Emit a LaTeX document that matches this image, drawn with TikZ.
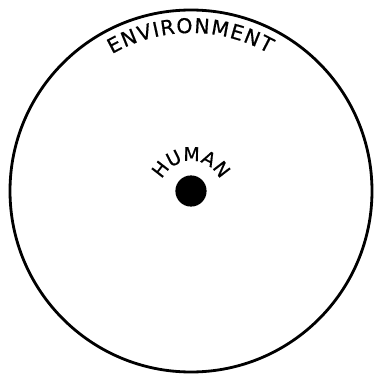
\documentclass[tikz,border=0pt]{standalone}
\usepackage{fontspec}
\setmainfont{DejaVu Sans}
\newfontfamily\labelfont[FakeBold=0.6]{DejaVu Sans}
\usetikzlibrary{decorations.text}
\tikzset{
  envring/.style={circle,draw=black,line width=2pt,minimum size=9.05cm,inner sep=0pt},
  humandot/.style={circle,fill=black,minimum size=0.78cm,inner sep=0pt},
  arclabel/.style={decorate,decoration={text along path,text align=fit to path,text={#1}}}
}

\begin{document}
\begin{tikzpicture}
  \useasboundingbox (-4.775,-4.575) rectangle (4.575,4.775);
  \node[envring] (env) at (0,0) {};
  \node[humandot] (human) at (0,0) {};

  % curved labels
  \path[arclabel={|\labelfont\fontsize{14.5}{16}\selectfont|ENVIRONMENT}]
    ([shift={(120:3.95)}]env.center) arc[start angle=120,end angle=60.5,radius=3.95];
  \path[arclabel={|\labelfont\fontsize{13.5}{15}\selectfont|HUMAN}]
    ([shift={(155:0.8)}]human.center) ++(0,-0.05) arc[start angle=155,end angle=25,radius=0.8];
\end{tikzpicture}
\end{document}
